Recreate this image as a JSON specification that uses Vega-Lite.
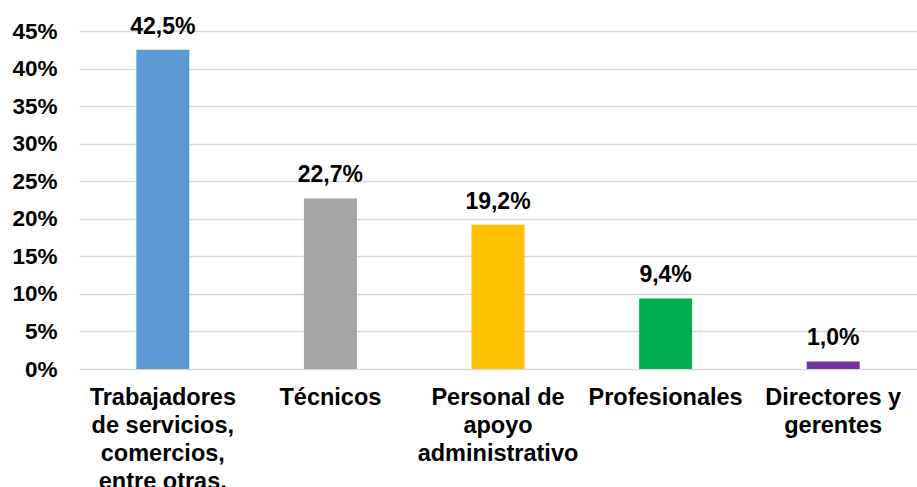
{
  "$schema": "https://vega.github.io/schema/vega-lite/v6.json",
  "width": 838,
  "height": 338,
  "autosize": "none",
  "padding": {"left": 79, "top": 31, "right": 0, "bottom": 118},
  "background": "white",
  "config": {
    "locale": {"number": {"decimal": ",", "thousands": ".", "grouping": [3], "currency": ["", " €"]}},
    "view": {"stroke": null},
    "font": "Liberation Sans"
  },
  "data": {
    "values": [
      {"categoria": "Trabajadores de servicios, comercios, entre otras.", "valor": 0.425, "color": "#5B9BD5"},
      {"categoria": "Técnicos", "valor": 0.227, "color": "#A5A5A5"},
      {"categoria": "Personal de apoyo administrativo", "valor": 0.192, "color": "#FFC000"},
      {"categoria": "Profesionales", "valor": 0.094, "color": "#00B050"},
      {"categoria": "Directores y gerentes", "valor": 0.01, "color": "#7030A0"}
    ]
  },
  "encoding": {
    "x": {
      "field": "categoria",
      "type": "nominal",
      "sort": null,
      "title": null,
      "scale": {"paddingInner": 0.684, "paddingOuter": 0.342},
      "axis": {
        "domain": false,
        "ticks": false,
        "tickSize": 0,
        "labelAngle": 0,
        "labelFont": "Liberation Sans",
        "labelFontWeight": "bold",
        "labelFontSize": 23.5,
        "labelColor": "#000000",
        "labelLineHeight": 28,
        "labelBaseline": "top",
        "labelPadding": 16,
        "labelLimit": 0,
        "labelExpr": "datum.label == 'Trabajadores de servicios, comercios, entre otras.' ? ['Trabajadores', 'de servicios,', 'comercios,', 'entre otras.'] : datum.label == 'Personal de apoyo administrativo' ? ['Personal de', 'apoyo', 'administrativo'] : datum.label == 'Directores y gerentes' ? ['Directores y', 'gerentes'] : datum.label"
      }
    },
    "y": {
      "field": "valor",
      "type": "quantitative",
      "title": null,
      "scale": {"domain": [0, 0.45], "nice": false},
      "axis": {
        "values": [0, 0.05, 0.1, 0.15, 0.2, 0.25, 0.3, 0.35, 0.4, 0.45],
        "format": ".0%",
        "domain": false,
        "ticks": false,
        "tickSize": 0,
        "labelPadding": 22,
        "labelFont": "Liberation Sans",
        "labelFontWeight": "bold",
        "labelFontSize": 22.5,
        "labelColor": "#000000",
        "grid": true,
        "gridColor": "#D9D9D9",
        "gridWidth": 1.5
      }
    }
  },
  "layer": [
    {
      "mark": {"type": "bar"},
      "encoding": {
        "color": {"field": "color", "type": "nominal", "scale": null, "legend": null}
      }
    },
    {
      "mark": {
        "type": "text",
        "baseline": "alphabetic",
        "dy": -16,
        "font": "Liberation Sans",
        "fontWeight": "bold",
        "fontSize": 23,
        "color": "#000000"
      },
      "encoding": {
        "text": {"field": "valor", "type": "quantitative", "format": ".1%"}
      }
    }
  ]
}
